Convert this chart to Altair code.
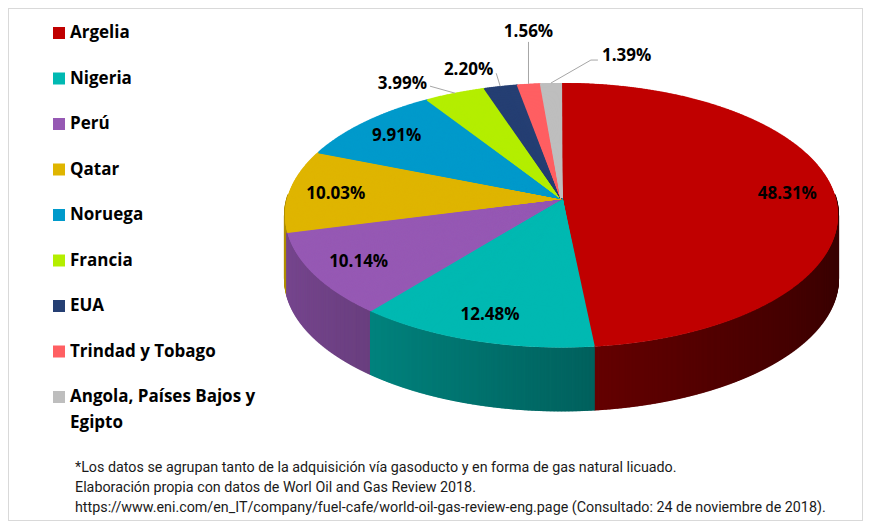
import altair as alt
import numpy as np
import pandas as pd

# ---------------- data ----------------
countries = ["Argelia", "Nigeria", "Perú", "Qatar", "Noruega", "Francia", "EUA",
             "Trindad y Tobago", "Angola, Países Bajos y Egipto"]
legend_labels = ["Argelia", "Nigeria", "Perú", "Qatar", "Noruega", "Francia", "EUA",
                 "Trindad y Tobago", "Angola, Países Bajos y\nEgipto"]
shares = [48.31, 12.48, 10.14, 10.03, 9.91, 3.99, 2.20, 1.56, 1.39]
colors = ["#C00000", "#00B9B2", "#9659B4", "#DFB500", "#009ACB", "#B4EE00",
          "#253F73", "#FF5F62", "#BEBEBE"]
outside = ["Francia", "EUA", "Trindad y Tobago", "Angola, Países Bajos y Egipto"]
footer_lines = [
    "*Los datos se agrupan tanto de la adquisición vía gasoducto y en forma de gas natural licuado.",
    "Elaboración propia con datos de Worl Oil and Gas Review 2018.",
    "https://www.eni.com/en_IT/company/fuel-cafe/world-oil-gas-review-eng.page (Consultado: 24 de noviembre de 2018).",
]

# ---------------- layout / style ----------------
W, H = 855, 513
X_RANGE = [279.4, 827.6]   # pixel range of the pie's x scale (domain -1..1)
Y_RANGE = [60, 320]        # pixel range of the pie's y scale (domain -1..1)
PERSP = 0.13               # perspective strength of the tilted disc
DEPTH = 64                 # thickness of the disc, px
N = 1440                   # angular samples
R_IN = 0.83                # radius of inside labels
LABEL_FONT = "Open Sans"
# leader polylines (px offsets from slice edge) and label placement (px from last point)
LEADERS = {
    "Francia": ([(-25, -7)], (-3, -2, "right")),
    "EUA": ([(-4, -13)], (-3, -3, "right")),
    "Trindad y Tobago": ([(0, -42)], (0, -10, "center")),
    "Angola, Países Bajos y Egipto": ([(40, -23), (47, -23)], (4, -4, "left")),
}

PX_U = 2.0 / (X_RANGE[1] - X_RANGE[0])
PX_V = 2.0 / (Y_RANGE[1] - Y_RANGE[0])


def proj(u, v):
    s = 1.0 / (1.0 - PERSP * v)
    return u * s, v * s


def shade(hexcol, f):
    r, g, b = (int(hexcol[i:i + 2], 16) for i in (1, 3, 5))
    return "#%02x%02x%02x" % (int(r * f), int(g * f), int(b * f))


total = float(sum(shares))
bounds = np.cumsum([0.0] + shares) / total
frac = (np.arange(N) + 0.5) / N
idx = np.clip(np.searchsorted(bounds, frac, side="right") - 1, 0, len(shares) - 1)
ang = 2 * np.pi * frac
u = np.sin(ang)
v = -np.cos(ang)
pu, pv = proj(u, v)

top = pd.DataFrame({"x0": 0.0, "y0": 0.0, "x": pu, "y": pv,
                    "country": [countries[i] for i in idx]})

side = pd.DataFrame({"x": pu, "y": pv, "v": v,
                     "col": [shade(colors[i], 0.80 - 0.25 * (uu + 1)) for i, uu in zip(idx, u)]})
side = side[side["v"] > -0.03].sort_values("v").reset_index(drop=True)

# labels
mids = (bounds[:-1] + bounds[1:]) / 2 * 2 * np.pi
inside_rows, lead_rows, out_rows = [], [], []
for c, s, m in zip(countries, shares, mids):
    txt = f"{s:.2f}%"
    if c not in outside:
        lx, ly = proj(R_IN * np.sin(m), -R_IN * np.cos(m))
        inside_rows.append({"x": lx, "y": ly, "t": txt})
    else:
        ex, ey = proj(np.sin(m), -np.cos(m))
        pts, (ldx, ldy, al) = LEADERS[c]
        lead_rows.append({"c": c, "o": 0, "x": ex, "y": ey})
        for k, (dx, dy) in enumerate(pts):
            lead_rows.append({"c": c, "o": k + 1, "x": ex + dx * PX_U, "y": ey + dy * PX_V})
        lx = ex + (pts[-1][0] + ldx) * PX_U
        ly = ey + (pts[-1][1] + ldy) * PX_V
        out_rows.append({"x": lx, "y": ly, "t": txt, "al": al})
inside_df = pd.DataFrame(inside_rows)
lead_df = pd.DataFrame(lead_rows)
out_df = pd.DataFrame(out_rows)

xs = alt.Scale(domain=[-1, 1], range=X_RANGE, nice=False, zero=False)
ys = alt.Scale(domain=[-1, 1], range=Y_RANGE, nice=False, zero=False)
cscale = alt.Scale(domain=countries, range=colors)

side_layer = alt.Chart(side).mark_rule(strokeWidth=2.2, y2Offset=DEPTH).encode(
    x=alt.X("x:Q", scale=xs, axis=None),
    y=alt.Y("y:Q", scale=ys, axis=None),
    y2="y:Q",
    color=alt.Color("col:N", scale=None, legend=None),
)

top_layer = alt.Chart(top).mark_rule(strokeWidth=2.2).encode(
    x=alt.X("x0:Q", scale=xs, axis=None),
    y=alt.Y("y0:Q", scale=ys, axis=None),
    x2="x:Q",
    y2="y:Q",
    color=alt.Color("country:N", scale=cscale, legend=None),
)

inside_layer = alt.Chart(inside_df).mark_text(
    font=LABEL_FONT, fontWeight="bold", fontSize=17, color="black", dy=2
).encode(
    x=alt.X("x:Q", scale=xs, axis=None),
    y=alt.Y("y:Q", scale=ys, axis=None),
    text="t:N",
)

lead_layer = alt.Chart(lead_df).mark_line(color="#A6A6A6", strokeWidth=1).encode(
    x=alt.X("x:Q", scale=xs, axis=None),
    y=alt.Y("y:Q", scale=ys, axis=None),
    detail="c:N",
    order="o:Q",
)

out_layers = []
for al in ["right", "center", "left"]:
    out_layers.append(
        alt.Chart(out_df).transform_filter(alt.datum.al == al).mark_text(
            font=LABEL_FONT, fontWeight="bold", fontSize=17, color="black",
            align=al, baseline="middle"
        ).encode(
            x=alt.X("x:Q", scale=xs, axis=None),
            y=alt.Y("y:Q", scale=ys, axis=None),
            text="t:N",
        )
    )

leg_df = pd.DataFrame({"i": list(range(len(countries))), "country": countries, "label": legend_labels})
ly_scale = alt.Scale(domain=[0, len(countries) - 1], range=[25, 389], nice=False, zero=False)
leg_sq = alt.Chart(leg_df).mark_square(size=144, opacity=1).encode(
    x=alt.value(51),
    y=alt.Y("i:Q", scale=ly_scale, axis=None),
    color=alt.Color("country:N", scale=cscale, legend=None),
)
leg_tx = alt.Chart(leg_df).mark_text(
    align="left", baseline="top", dy=-8, lineBreak="\n", lineHeight=26,
    font=LABEL_FONT, fontWeight="bold", fontSize=17, color="black"
).encode(
    x=alt.value(62),
    y=alt.Y("i:Q", scale=ly_scale, axis=None),
    text="label:N",
)

foot_df = pd.DataFrame({"i": [0, 1, 2], "line": footer_lines})
foot = alt.Chart(foot_df).mark_text(
    align="left", baseline="middle", font="Roboto", fontSize=14.3, color="#1a1a1a"
).encode(
    x=alt.value(67),
    y=alt.Y("i:Q", scale=alt.Scale(domain=[0, 2], range=[460, 500], nice=False, zero=False), axis=None),
    text="line:N",
)

chart = alt.layer(
    side_layer, top_layer, inside_layer, lead_layer, *out_layers, leg_sq, leg_tx, foot
).resolve_scale(
    x="independent", y="independent", color="independent"
).properties(
    width=W, height=H, padding=0, autosize=alt.AutoSizeParams(type="none"), background="white"
).configure_view(stroke="#D9D9D9", strokeWidth=2)

chart.save("out.html", embed_options={"renderer": "svg", "actions": False})
